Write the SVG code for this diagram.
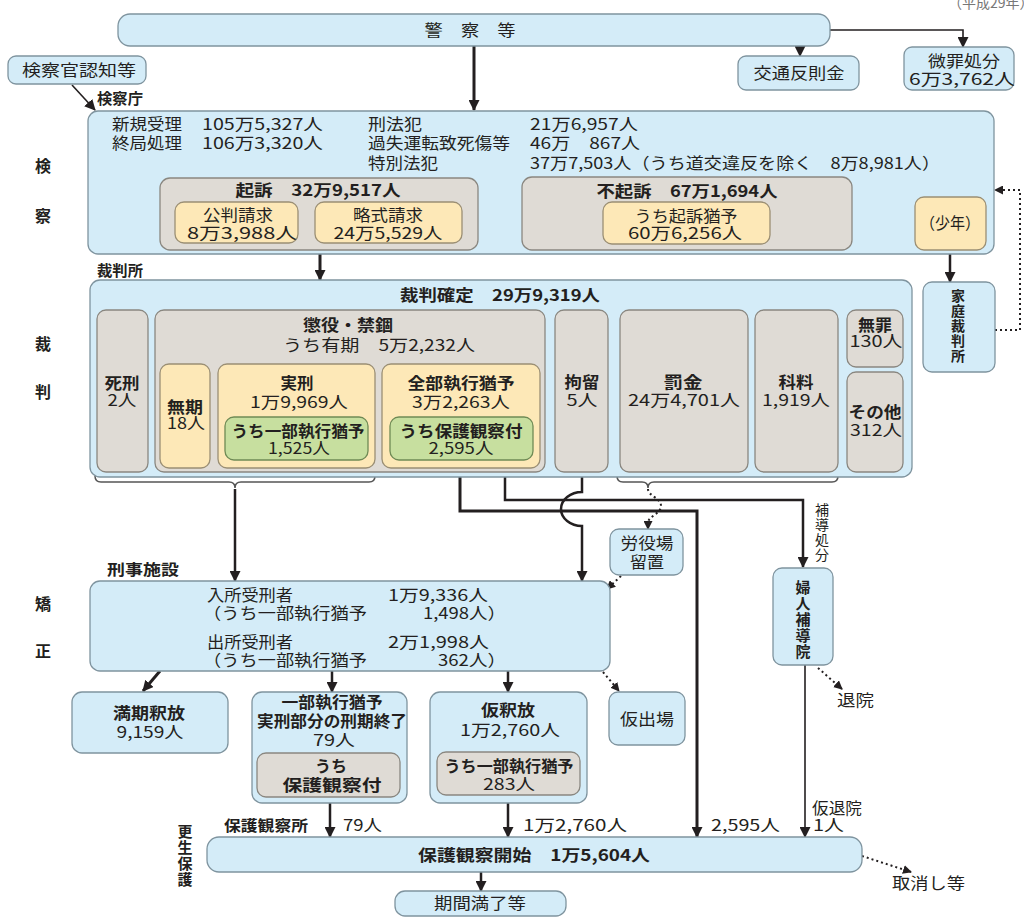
<svg xmlns="http://www.w3.org/2000/svg" width="1024" height="918" viewBox="0 0 1024 918">
<style>
.t{font-family:"Noto Sans CJK JP","Noto Sans CJK SC",sans-serif;font-size:16px;fill:#231f20}
.s{font-size:14px}
.v{font-size:15px}
.b{font-weight:bold}
.c{text-anchor:middle}
.blue{fill:#d4ecf8;stroke:#7f949f;stroke-width:1.3}
.gray{fill:#dfdbd5;stroke:#8a8780;stroke-width:1.3}
.yel{fill:#fde8b7;stroke:#9b8f74;stroke-width:1.3}
.grn{fill:#c7df9f;stroke:#6f8a55;stroke-width:1.3}
.ln{fill:none;stroke:#231f20;stroke-width:2.5}
.thk{stroke-width:3}
.thn{stroke-width:1.6}
.dot{fill:none;stroke:#231f20;stroke-width:2;stroke-dasharray:2 3}
.dt{fill:none;stroke:#333;stroke-width:1.4;stroke-dasharray:2 2}
.br{fill:none;stroke:#555;stroke-width:1.5}
</style>
<defs>
<marker id="ah" viewBox="0 0 11 11" refX="10" refY="5.5" markerWidth="11" markerHeight="11" markerUnits="userSpaceOnUse" orient="auto"><path d="M0,0 L11,5.5 L0,11 z" fill="#231f20"/></marker>
<marker id="ad" viewBox="0 0 9 9" refX="8" refY="4.5" markerWidth="9" markerHeight="9" markerUnits="userSpaceOnUse" orient="auto"><path d="M0,0 L9,4.5 L0,9 z" fill="#231f20"/></marker>
</defs>
<rect width="1024" height="918" fill="#fff"/>
<text class="t s" x="948" y="8" style="fill:#777">（平成29年）</text>

<g id="side-labels">
<text class="t b c" x="43" y="172">検</text>
<text class="t b c" x="43" y="222">察</text>
<text class="t b c" x="43" y="350">裁</text>
<text class="t b c" x="43" y="398">判</text>
<text class="t b c" x="43" y="610">矯</text>
<text class="t b c" x="43" y="657">正</text>
<text class="t v b c" x="185" y="837">更</text>
<text class="t v b c" x="185" y="853">生</text>
<text class="t v b c" x="185" y="869">保</text>
<text class="t v b c" x="185" y="885">護</text>
<text class="t v b" x="97" y="104" textLength="46" lengthAdjust="spacingAndGlyphs">検察庁</text>
<text class="t v b" x="97" y="276" textLength="46" lengthAdjust="spacingAndGlyphs">裁判所</text>
<text class="t v b" x="107" y="575" textLength="72" lengthAdjust="spacingAndGlyphs">刑事施設</text>
<text class="t v b" x="224" y="831" textLength="84" lengthAdjust="spacingAndGlyphs">保護観察所</text>
</g>

<g id="connectors">
<path class="ln thk" d="M474,46 V110" marker-end="url(#ah)"/>
<path class="ln thn" d="M830,30 H963 V47" marker-end="url(#ah)"/>
<path class="ln thn" d="M800,30 V56" marker-end="url(#ah)"/>
<path class="ln thn" d="M72,85 L95,110" marker-end="url(#ah)"/>
<path class="ln thk" d="M320,250 V280" marker-end="url(#ah)"/>
<path class="ln" d="M950,251 V282" marker-end="url(#ah)"/>
<path class="dot" d="M995,330 H1020 V190 H995" marker-end="url(#ad)"/>
<path class="dt" d="M328,124 H366 M348,124 V163 H366 M348,143 H366"/>
<path class="br" d="M220,368 Q220,362 226,362 H371 Q377,362 377,356 Q377,362 383,362 H532 Q538,362 538,368"/>
<path class="br" d="M95,476 Q95,482 101,482 H229 Q235,482 235,488 Q235,482 241,482 H369 Q375,482 375,476"/>
<path class="br" d="M617,476 Q617,482 623,482 H642 Q648,482 648,488 Q648,482 654,482 H832 Q838,482 838,476"/>
<path class="ln" d="M235,489 V581" marker-end="url(#ah)"/>
<path class="dot" d="M648,489 C648,496 661,498 661,506 C661,514 648,516 648,523 V529" marker-end="url(#ad)"/>
<path class="dot" d="M621,576 L607,589" marker-end="url(#ad)"/>
<path class="ln" d="M582,472 V492 A21,17 0 0,0 582,526 V581" marker-end="url(#ah)"/>
<path class="ln thk" d="M460,460 V511 H697 V837" marker-end="url(#ah)"/>
<path class="ln" d="M505,468 V500 H803 V567" marker-end="url(#ah)"/>
<path class="ln thk" d="M160,671 L143,691" marker-end="url(#ah)"/>
<path class="ln" d="M332,671 V692" marker-end="url(#ah)"/>
<path class="ln" d="M508,671 V692" marker-end="url(#ah)"/>
<path class="dot" d="M603,672 L619,691" marker-end="url(#ad)"/>
<path class="ln" d="M330,797 V837" marker-end="url(#ah)"/>
<path class="ln" d="M508,803 V837" marker-end="url(#ah)"/>
<path class="ln thn" d="M805,665 V837" marker-end="url(#ah)"/>
<path class="dot" d="M818,668 L842,689" marker-end="url(#ad)"/>
<path class="ln" d="M481,872 V891" marker-end="url(#ah)"/>
<path class="dot" d="M862,856 L911,872" marker-end="url(#ad)"/>
<text class="t" x="343" y="831" textLength="39" lengthAdjust="spacingAndGlyphs">79人</text>
<text class="t" x="523" y="831" textLength="104" lengthAdjust="spacingAndGlyphs">1万2,760人</text>
<text class="t" x="711" y="831" textLength="69" lengthAdjust="spacingAndGlyphs">2,595人</text>
<text class="t" x="812" y="814" textLength="50" lengthAdjust="spacingAndGlyphs">仮退院</text>
<text class="t" x="813" y="831" textLength="31" lengthAdjust="spacingAndGlyphs">1人</text>
<text class="t" x="837" y="706" textLength="37" lengthAdjust="spacingAndGlyphs">退院</text>
<text class="t" x="892" y="889" textLength="73" lengthAdjust="spacingAndGlyphs">取消し等</text>
<text class="t s c" x="822" y="515">補</text>
<text class="t s c" x="822" y="530">導</text>
<text class="t s c" x="822" y="545">処</text>
<text class="t s c" x="822" y="560">分</text>
</g>

<g id="police">
<rect class="blue" x="118" y="14" width="712" height="32" rx="12"/>
<text class="t c" x="470" y="36" textLength="91" lengthAdjust="spacingAndGlyphs">警　察　等</text>
</g>
<g id="traffic">
<rect class="blue" x="738" y="56" width="121" height="34" rx="8"/>
<text class="t c" x="799" y="79" textLength="91" lengthAdjust="spacingAndGlyphs">交通反則金</text>
</g>
<g id="bizai">
<rect class="blue" x="904" y="47" width="110" height="43" rx="8"/>
<text class="t c" x="964" y="67" textLength="72" lengthAdjust="spacingAndGlyphs">微罪処分</text>
<text class="t c" x="962" y="85" textLength="106" lengthAdjust="spacingAndGlyphs">6万3,762人</text>
</g>
<g id="ninchi">
<rect class="blue" x="8" y="56" width="138" height="28" rx="8"/>
<text class="t c" x="79" y="76" textLength="114" lengthAdjust="spacingAndGlyphs">検察官認知等</text>
</g>

<g id="kensatsu">
<rect class="blue" x="88" y="111" width="906" height="143" rx="10"/>
<text class="t" x="112" y="130" textLength="70" lengthAdjust="spacingAndGlyphs">新規受理</text>
<text class="t" x="202" y="130" textLength="121" lengthAdjust="spacingAndGlyphs">105万5,327人</text>
<text class="t" x="368" y="130" textLength="54" lengthAdjust="spacingAndGlyphs">刑法犯</text>
<text class="t" x="530" y="130" textLength="108" lengthAdjust="spacingAndGlyphs">21万6,957人</text>
<text class="t" x="112" y="149" textLength="70" lengthAdjust="spacingAndGlyphs">終局処理</text>
<text class="t" x="202" y="149" textLength="121" lengthAdjust="spacingAndGlyphs">106万3,320人</text>
<text class="t" x="368" y="149" textLength="142" lengthAdjust="spacingAndGlyphs">過失運転致死傷等</text>
<text class="t" x="530" y="149" textLength="110" lengthAdjust="spacingAndGlyphs">46万　867人</text>
<text class="t" x="368" y="169" textLength="70" lengthAdjust="spacingAndGlyphs">特別法犯</text>
<text class="t" x="530" y="169" textLength="410" lengthAdjust="spacingAndGlyphs">37万7,503人（うち道交違反を除く　8万8,981人）</text>
</g>
<g id="kiso">
<rect class="gray" x="160" y="178" width="318" height="72" rx="10"/>
<text class="t b c" x="318" y="196" textLength="165" lengthAdjust="spacingAndGlyphs">起訴　32万9,517人</text>
</g>
<g id="kohan">
<rect class="yel" x="175" y="202" width="123" height="41" rx="9"/>
<text class="t c" x="238" y="221" textLength="70" lengthAdjust="spacingAndGlyphs">公判請求</text>
<text class="t c" x="242" y="239" textLength="110" lengthAdjust="spacingAndGlyphs">8万3,988人</text>
</g>
<g id="ryakushiki">
<rect class="yel" x="315" y="202" width="147" height="41" rx="9"/>
<text class="t c" x="388" y="221" textLength="70" lengthAdjust="spacingAndGlyphs">略式請求</text>
<text class="t c" x="388" y="239" textLength="109" lengthAdjust="spacingAndGlyphs">24万5,529人</text>
</g>
<g id="fukiso">
<rect class="gray" x="522" y="177" width="330" height="73" rx="10"/>
<text class="t b c" x="687" y="197" textLength="181" lengthAdjust="spacingAndGlyphs">不起訴　67万1,694人</text>
</g>
<g id="kiso-yuyo">
<rect class="yel" x="603" y="202" width="167" height="42" rx="9"/>
<text class="t c" x="686" y="222" textLength="103" lengthAdjust="spacingAndGlyphs">うち起訴猶予</text>
<text class="t c" x="685" y="239" textLength="114" lengthAdjust="spacingAndGlyphs">60万6,256人</text>
</g>
<g id="shonen">
<rect class="yel" x="915" y="197" width="71" height="53" rx="9"/>
<text class="t c" x="950" y="229" textLength="60" lengthAdjust="spacingAndGlyphs">（少年）</text>
</g>
<g id="katei">
<rect class="blue" x="923" y="282" width="72" height="90" rx="9"/>
<text class="t s b c" x="958" y="301">家</text>
<text class="t s b c" x="958" y="316">庭</text>
<text class="t s b c" x="958" y="331">裁</text>
<text class="t s b c" x="958" y="346">判</text>
<text class="t s b c" x="958" y="361">所</text>
</g>

<g id="saiban">
<rect class="blue" x="90" y="280" width="822" height="197" rx="10"/>
<text class="t b c" x="500" y="301" textLength="200" lengthAdjust="spacingAndGlyphs">裁判確定　29万9,319人</text>
</g>
<g id="shikei">
<rect class="gray" x="97" y="310" width="51" height="162" rx="9"/>
<text class="t b c" x="122" y="389" textLength="35" lengthAdjust="spacingAndGlyphs">死刑</text>
<text class="t c" x="122" y="406" textLength="29" lengthAdjust="spacingAndGlyphs">2人</text>
</g>
<g id="choeki">
<rect class="gray" x="155" y="310" width="390" height="162" rx="9"/>
<text class="t b c" x="348" y="331" textLength="90" lengthAdjust="spacingAndGlyphs">懲役・禁錮</text>
<text class="t c" x="379" y="351" textLength="192" lengthAdjust="spacingAndGlyphs">うち有期　5万2,232人</text>
</g>
<g id="muki">
<rect class="yel" x="160" y="364" width="50" height="104" rx="9"/>
<text class="t b c" x="185" y="413" textLength="36" lengthAdjust="spacingAndGlyphs">無期</text>
<text class="t c" x="186" y="429" textLength="38" lengthAdjust="spacingAndGlyphs">18人</text>
</g>
<g id="jikkei">
<rect class="yel" x="218" y="364" width="157" height="104" rx="9"/>
<text class="t b c" x="297" y="389" textLength="33" lengthAdjust="spacingAndGlyphs">実刑</text>
<text class="t c" x="299" y="408" textLength="98" lengthAdjust="spacingAndGlyphs">1万9,969人</text>
</g>
<g id="jikkei-ichibu">
<rect class="grn" x="225" y="417" width="143" height="43" rx="9"/>
<text class="t b c" x="298" y="437" textLength="133" lengthAdjust="spacingAndGlyphs">うち一部執行猶予</text>
<text class="t c" x="299" y="454" textLength="62" lengthAdjust="spacingAndGlyphs">1,525人</text>
</g>
<g id="zenbu">
<rect class="yel" x="382" y="364" width="158" height="104" rx="9"/>
<text class="t b c" x="461" y="389" textLength="107" lengthAdjust="spacingAndGlyphs">全部執行猶予</text>
<text class="t c" x="461" y="408" textLength="98" lengthAdjust="spacingAndGlyphs">3万2,263人</text>
</g>
<g id="zenbu-hogo">
<rect class="grn" x="390" y="417" width="143" height="43" rx="9"/>
<text class="t b c" x="461" y="437" textLength="123" lengthAdjust="spacingAndGlyphs">うち保護観察付</text>
<text class="t c" x="461" y="454" textLength="65" lengthAdjust="spacingAndGlyphs">2,595人</text>
</g>
<g id="koryu">
<rect class="gray" x="555" y="310" width="53" height="162" rx="9"/>
<text class="t b c" x="582" y="388" textLength="35" lengthAdjust="spacingAndGlyphs">拘留</text>
<text class="t c" x="582" y="406" textLength="31" lengthAdjust="spacingAndGlyphs">5人</text>
</g>
<g id="bakkin">
<rect class="gray" x="620" y="310" width="128" height="162" rx="9"/>
<text class="t b c" x="683" y="388" textLength="39" lengthAdjust="spacingAndGlyphs">罰金</text>
<text class="t c" x="684" y="406" textLength="112" lengthAdjust="spacingAndGlyphs">24万4,701人</text>
</g>
<g id="karyo">
<rect class="gray" x="755" y="310" width="83" height="162" rx="9"/>
<text class="t b c" x="796" y="388" textLength="35" lengthAdjust="spacingAndGlyphs">科料</text>
<text class="t c" x="796" y="406" textLength="68" lengthAdjust="spacingAndGlyphs">1,919人</text>
</g>
<g id="muzai">
<rect class="gray" x="847" y="310" width="56" height="57" rx="9"/>
<text class="t b c" x="875" y="331" textLength="34" lengthAdjust="spacingAndGlyphs">無罪</text>
<text class="t c" x="876" y="347" textLength="53" lengthAdjust="spacingAndGlyphs">130人</text>
</g>
<g id="sonota">
<rect class="gray" x="847" y="372" width="56" height="100" rx="9"/>
<text class="t b c" x="875" y="418" textLength="53" lengthAdjust="spacingAndGlyphs">その他</text>
<text class="t c" x="876" y="436" textLength="52" lengthAdjust="spacingAndGlyphs">312人</text>
</g>

<g id="roekijo">
<rect class="blue" x="610" y="529" width="73" height="46" rx="9"/>
<text class="t c" x="647" y="549" textLength="53" lengthAdjust="spacingAndGlyphs">労役場</text>
<text class="t c" x="647" y="568" textLength="34" lengthAdjust="spacingAndGlyphs">留置</text>
</g>
<g id="fujin">
<rect class="blue" x="773" y="568" width="60" height="97" rx="9"/>
<text class="t v b c" x="803" y="593">婦</text>
<text class="t v b c" x="803" y="609">人</text>
<text class="t v b c" x="803" y="625">補</text>
<text class="t v b c" x="803" y="641">導</text>
<text class="t v b c" x="803" y="657">院</text>
</g>

<g id="kyosei">
<rect class="blue" x="90" y="581" width="520" height="90" rx="10"/>
<text class="t" x="207" y="601" textLength="86" lengthAdjust="spacingAndGlyphs">入所受刑者</text>
<text class="t" x="388" y="601" textLength="100" lengthAdjust="spacingAndGlyphs">1万9,336人</text>
<text class="t" x="203" y="619" textLength="164" lengthAdjust="spacingAndGlyphs">（うち一部執行猶予</text>
<text class="t" x="423" y="619" textLength="83" lengthAdjust="spacingAndGlyphs">1,498人）</text>
<text class="t" x="207" y="648" textLength="86" lengthAdjust="spacingAndGlyphs">出所受刑者</text>
<text class="t" x="388" y="648" textLength="101" lengthAdjust="spacingAndGlyphs">2万1,998人</text>
<text class="t" x="203" y="666" textLength="164" lengthAdjust="spacingAndGlyphs">（うち一部執行猶予</text>
<text class="t" x="438" y="666" textLength="68" lengthAdjust="spacingAndGlyphs">362人）</text>
</g>

<g id="manki">
<rect class="blue" x="72" y="692" width="156" height="61" rx="10"/>
<text class="t b c" x="149" y="719" textLength="72" lengthAdjust="spacingAndGlyphs">満期釈放</text>
<text class="t c" x="150" y="738" textLength="67" lengthAdjust="spacingAndGlyphs">9,159人</text>
</g>
<g id="ichibu-shuryo">
<rect class="blue" x="252" y="692" width="155" height="111" rx="10"/>
<text class="t b c" x="332" y="708" textLength="101" lengthAdjust="spacingAndGlyphs">一部執行猶予</text>
<text class="t b c" x="332" y="727" textLength="150" lengthAdjust="spacingAndGlyphs">実刑部分の刑期終了</text>
<text class="t c" x="334" y="746" textLength="42" lengthAdjust="spacingAndGlyphs">79人</text>
</g>
<g id="ichibu-hogo">
<rect class="gray" x="257" y="753" width="143" height="44" rx="9"/>
<text class="t b c" x="331" y="772" textLength="32" lengthAdjust="spacingAndGlyphs">うち</text>
<text class="t b c" x="332" y="791" textLength="99" lengthAdjust="spacingAndGlyphs">保護観察付</text>
</g>
<g id="karishakuho">
<rect class="blue" x="430" y="692" width="157" height="111" rx="10"/>
<text class="t b c" x="508" y="716" textLength="54" lengthAdjust="spacingAndGlyphs">仮釈放</text>
<text class="t c" x="510" y="736" textLength="100" lengthAdjust="spacingAndGlyphs">1万2,760人</text>
</g>
<g id="karishakuho-ichibu">
<rect class="gray" x="437" y="752" width="143" height="43" rx="9"/>
<text class="t b c" x="509" y="772" textLength="129" lengthAdjust="spacingAndGlyphs">うち一部執行猶予</text>
<text class="t c" x="509" y="790" textLength="52" lengthAdjust="spacingAndGlyphs">283人</text>
</g>
<g id="karishutsujo">
<rect class="blue" x="609" y="692" width="76" height="53" rx="9"/>
<text class="t c" x="647" y="725" textLength="54" lengthAdjust="spacingAndGlyphs">仮出場</text>
</g>

<g id="hogo-kansatsu">
<rect class="blue" x="207" y="837" width="655" height="35" rx="12"/>
<text class="t b c" x="534" y="861" textLength="232" lengthAdjust="spacingAndGlyphs">保護観察開始　1万5,604人</text>
</g>
<g id="kikan-manryo">
<rect class="blue" x="395" y="891" width="171" height="25" rx="10"/>
<text class="t c" x="480" y="909" textLength="92" lengthAdjust="spacingAndGlyphs">期間満了等</text>
</g>
</svg>
